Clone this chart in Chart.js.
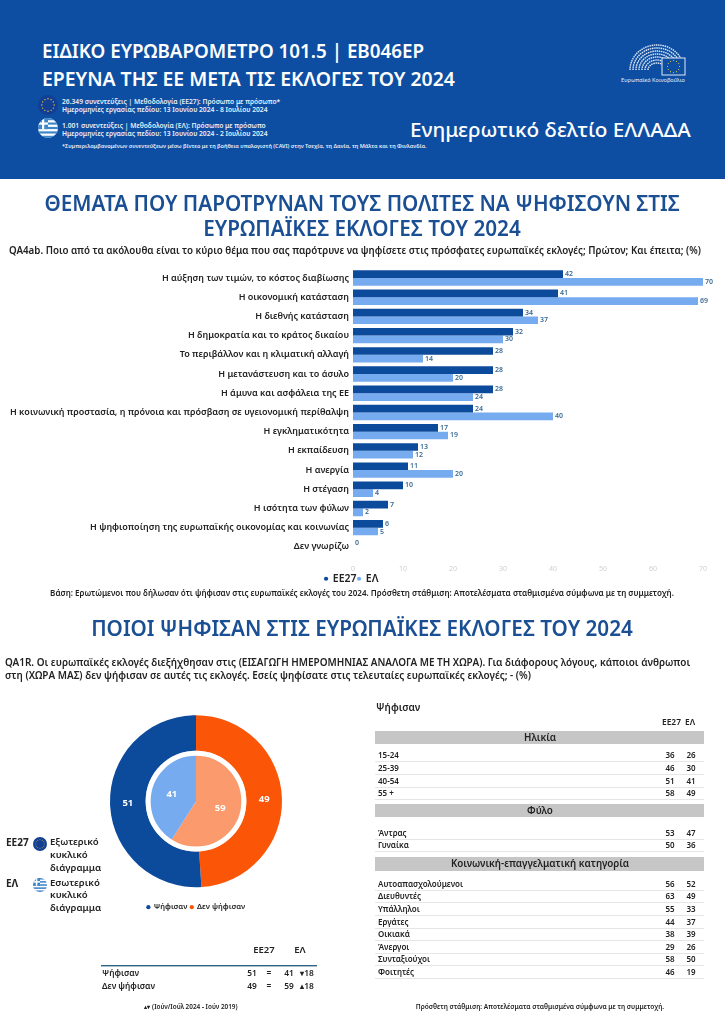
<!DOCTYPE html>
<html lang="el">
<head>
<meta charset="utf-8">
<title>Ενημερωτικό δελτίο ΕΛΛΑΔΑ</title>
<script src="https://cdn.jsdelivr.net/npm/chart.js@4"></script>
<style>
  html, body { margin: 0; padding: 0; background: #fff; }
  #page { position: relative; width: 725px; height: 1024px; overflow: hidden; font-family: "Noto Sans", sans-serif; color: #222; }
  #header { position: absolute; left: 0; top: 0; width: 725px; height: 179px; background: #0d4ea3; }
  .t { position: absolute; white-space: nowrap; transform: translateY(-50%); line-height: 1; }
  .band { position: absolute; left: 375px; width: 329px; background: #c6c6c6; }
  .rule { position: absolute; left: 375px; width: 329px; height: 1px; background: #e6e6e6; }
  canvas { position: absolute; }
  svg { position: absolute; }
</style>
</head>
<body>
<div id="page">
  <div id="header"></div>
  <canvas id="barChart" style="left:0;top:259px" width="725" height="335"></canvas>
  <canvas id="pieChart" style="left:60px;top:702px" width="272" height="219"></canvas>
</div>
<script>
const page = document.getElementById("page");

// bar chart
const topics = [
  "Η αύξηση των τιμών, το κόστος διαβίωσης",
  "Η οικονομική κατάσταση",
  "Η διεθνής κατάσταση",
  "Η δημοκρατία και το κράτος δικαίου",
  "Το περιβάλλον και η κλιματική αλλαγή",
  "Η μετανάστευση και το άσυλο",
  "Η άμυνα και ασφάλεια της ΕΕ",
  "Η κοινωνική προστασία, η πρόνοια και πρόσβαση σε υγειονομική περίθαλψη",
  "Η εγκληματικότητα",
  "Η εκπαίδευση",
  "Η ανεργία",
  "Η στέγαση",
  "Η ισότητα των φύλων",
  "Η ψηφιοποίηση της ευρωπαϊκής οικονομίας και κοινωνίας",
  "Δεν γνωρίζω",
];
const topicsEU = [42, 41, 34, 32, 28, 28, 28, 24, 17, 13, 11, 10, 7, 6, 0];
const topicsEL = [70, 69, 37, 30, 14, 20, 24, 40, 19, 12, 20, 4, 2, 5, null];

// doughnut
const voteLabels = ["Δεν ψήφισαν", "Ψήφισαν"];
const voteEU = [49, 51];
const voteEL = [59, 41];

// tables
const ageRows = ["15-24", "25-39", "40-54", "55 +"];
const ageEU = [36, 46, 51, 58];
const ageEL = [26, 30, 41, 49];
const genderRows = ["Άντρας", "Γυναίκα"];
const genderEU = [53, 50];
const genderEL = [47, 36];
const jobRows = ["Αυτοαπασχολούμενοι", "Διευθυντές", "Υπάλληλοι", "Εργάτες", "Οικιακά", "Άνεργοι", "Συνταξιούχοι", "Φοιτητές"];
const jobEU = [56, 63, 55, 44, 38, 29, 58, 46];
const jobEL = [52, 49, 33, 37, 39, 26, 50, 19];
const summaryRows = ["Ψήφισαν", "Δεν ψήφισαν"];
const summaryEU = [51, 49];
const summaryEUDiff = ["=", "="];
const summaryEL = [41, 59];
const summaryELDiff = ["▾18", "▴18"];

const DARK = "#0c4a9b";
const LIGHT = "#76abf0";
const ORANGE = "#fb5607";
const PEACH = "#fa9a6d";
const TITLE = "#1b4f93";

function text(x, y, str, size, weight, color, align) {
  const el = document.createElement("div");
  el.className = "t";
  el.textContent = str;
  el.style.top = y + "px";
  el.style.fontSize = size + "px";
  el.style.fontWeight = weight || 400;
  if (color) el.style.color = color;
  if (align === "center") {
    el.style.left = x + "px";
    el.style.transform = "translate(-50%, -50%)";
  } else if (align === "right") {
    el.style.right = (725 - x) + "px";
  } else {
    el.style.left = x + "px";
  }
  page.appendChild(el);
  return el;
}

function addSvg(markup) {
  page.insertAdjacentHTML("beforeend", markup);
}

function euFlag(cx, cy, r) {
  let stars = "";
  for (let i = 0; i < 12; i++) {
    const a = (i * Math.PI) / 6;
    stars += `<circle cx="${cx + Math.cos(a) * r * 0.62}" cy="${cy + Math.sin(a) * r * 0.62}" r="${r * 0.07}" fill="#e8c93a"/>`;
  }
  return `<svg style="left:0;top:0" width="725" height="1024"><circle cx="${cx}" cy="${cy}" r="${r}" fill="#123f94"/>${stars}</svg>`;
}

function greekFlag(cx, cy, r) {
  const id = "gr" + cx + cy;
  let stripes = "";
  const h = (r * 2) / 9;
  for (let i = 0; i < 9; i += 2) {
    stripes += `<rect x="${cx - r}" y="${cy - r + i * h}" width="${r * 2}" height="${h}" fill="#3f86c9"/>`;
  }
  return `<svg style="left:0;top:0" width="725" height="1024"><defs><clipPath id="${id}"><circle cx="${cx}" cy="${cy}" r="${r}"/></clipPath></defs>
    <g clip-path="url(#${id})"><rect x="${cx - r}" y="${cy - r}" width="${r * 2}" height="${r * 2}" fill="#fff"/>${stripes}
    <rect x="${cx - r}" y="${cy - r}" width="${r}" height="${h * 5}" fill="#3f86c9"/>
    <rect x="${cx - r}" y="${cy - r + h * 2}" width="${r}" height="${h}" fill="#fff"/>
    <rect x="${cx - r * 0.6}" y="${cy - r}" width="${h}" height="${h * 5}" fill="#fff"/></g></svg>`;
}

function parliamentLogo() {
  let arcs = "";
  for (let i = 0; i < 7; i++) {
    const rx = 27 - i * 3;
    const ry = 25 - i * 3;
    arcs += `<path d="M ${657 - rx} 70 A ${rx} ${ry} 0 0 1 ${657 + rx} 70" fill="none" stroke="#dfe9f7" stroke-width="1.4" stroke-dasharray="1.5 0.7"/>`;
  }
  let stars = "";
  for (let i = 0; i < 12; i++) {
    const a = (i * Math.PI) / 6;
    stars += `<circle cx="${673.5 + Math.cos(a) * 6}" cy="${66.5 + Math.sin(a) * 6}" r="0.6" fill="#e8c93a"/>`;
  }
  return `<svg style="left:0;top:0" width="725" height="1024">${arcs}
    <rect x="662" y="58" width="23" height="17" fill="#0d4ea3" stroke="#dfe9f7" stroke-width="1"/>${stars}</svg>`;
}

// header
text(42, 51, "ΕΙΔΙΚΟ ΕΥΡΩΒΑΡΟΜΕΤΡΟ 101.5 | EB046EP", 18.8, 600, "#fff");
text(42, 79, "ΕΡΕΥΝΑ ΤΗΣ ΕΕ ΜΕΤΑ ΤΙΣ ΕΚΛΟΓΕΣ ΤΟΥ 2024", 19.4, 600, "#fff");
text(62, 102, "26.349 συνεντεύξεις | Μεθοδολογία (ΕΕ27): Πρόσωπο με πρόσωπο*", 6.7, 600, "#e8eef8");
text(62, 110, "Ημερομηνίες εργασίας πεδίου: 13 Ιουνίου 2024 - 8 Ιουλίου 2024", 6.7, 600, "#e8eef8");
text(62, 126, "1.001 συνεντεύξεις | Μεθοδολογία (ΕΛ): Πρόσωπο με πρόσωπο", 6.7, 600, "#e8eef8");
text(62, 134, "Ημερομηνίες εργασίας πεδίου: 13 Ιουνίου 2024 - 2 Ιουλίου 2024", 6.7, 600, "#e8eef8");
text(62, 147, "*Συμπεριλαμβανομένων συνεντεύξεων μέσω βίντεο με τη βοήθεια υπολογιστή (CAVI) στην Τσεχία, τη Δανία, τη Μάλτα και τη Φινλανδία.", 5.5, 600, "#e8eef8");
text(410, 129, "Ενημερωτικό δελτίο ΕΛΛΑΔΑ", 20.7, 500, "#fff");
text(653, 81, "Ευρωπαϊκό Κοινοβούλιο", 5.6, 400, "#e8eef8", "center");
addSvg(euFlag(48, 105, 10));
addSvg(greekFlag(48, 128, 10));
addSvg(parliamentLogo());

// section titles and notes
text(362, 203, "ΘΕΜΑΤΑ ΠΟΥ ΠΑΡΟΤΡΥΝΑΝ ΤΟΥΣ ΠΟΛΙΤΕΣ ΝΑ ΨΗΦΙΣΟΥΝ ΣΤΙΣ", 20.7, 600, TITLE, "center");
text(362, 228, "ΕΥΡΩΠΑΪΚΕΣ ΕΚΛΟΓΕΣ ΤΟΥ 2024", 20.7, 600, TITLE, "center");
text(9, 251, "QA4ab. Ποιο από τα ακόλουθα είναι το κύριο θέμα που σας παρότρυνε να ψηφίσετε στις πρόσφατες ευρωπαϊκές εκλογές; Πρώτον; Και έπειτα; (%)", 9.75, 600);
text(362, 593, "Βάση: Ερωτώμενοι που δήλωσαν ότι ψήφισαν στις ευρωπαϊκές εκλογές του 2024. Πρόσθετη στάθμιση: Αποτελέσματα σταθμισμένα σύμφωνα με τη συμμετοχή.", 8.05, 600, null, "center");
text(362, 628, "ΠΟΙΟΙ ΨΗΦΙΣΑΝ ΣΤΙΣ ΕΥΡΩΠΑΪΚΕΣ ΕΚΛΟΓΕΣ ΤΟΥ 2024", 20.7, 600, TITLE, "center");
text(5, 663, "QA1R. Οι ευρωπαϊκές εκλογές διεξήχθησαν στις (ΕΙΣΑΓΩΓΗ ΗΜΕΡΟΜΗΝΙΑΣ ΑΝΑΛΟΓΑ ΜΕ ΤΗ ΧΩΡΑ). Για διάφορους λόγους, κάποιοι άνθρωποι", 9.95, 600);
text(5, 676, "στη (ΧΩΡΑ ΜΑΣ) δεν ψήφισαν σε αυτές τις εκλογές. Εσείς ψηφίσατε στις τελευταίες ευρωπαϊκές εκλογές; - (%)", 9.95, 600);

// doughnut key
text(6, 842, "ΕΕ27", 10, 700);
addSvg(euFlag(40, 844, 7));
text(50, 842, "Εξωτερικό", 9.6, 600);
text(50, 855, "κυκλικό", 9.6, 600);
text(50, 868, "διάγραμμα", 9.6, 600);
text(6, 883, "ΕΛ", 10, 700);
addSvg(greekFlag(40, 885, 7));
text(50, 883, "Εσωτερικό", 9.6, 600);
text(50, 895, "κυκλικό", 9.6, 600);
text(50, 908, "διάγραμμα", 9.6, 600);

// small table under the doughnut
text(264, 950, "ΕΕ27", 9.5, 600, null, "center");
text(300, 950, "ΕΛ", 9.5, 600, null, "center");
addSvg('<svg style="left:0;top:0" width="725" height="1024"><rect x="101" y="965" width="216" height="1.4" fill="#2f6486"/></svg>');
summaryRows.forEach((row, i) => {
  const y = 973 + i * 13;
  text(102, y, row, 8.4, 600);
  text(252, y, summaryEU[i], 8.4, 600, null, "center");
  text(269, y, summaryEUDiff[i], 8.4, 600, null, "center");
  text(289, y, summaryEL[i], 8.4, 600, null, "center");
  text(307, y, summaryELDiff[i], 8.4, 600, null, "center");
});
text(191, 1007, "▴▾ (Ιούν/Ιούλ 2024 - Ιούν 2019)", 6.4, 600, null, "center");

// table on the right
function band(top, height, label) {
  const el = document.createElement("div");
  el.className = "band";
  el.style.top = top + "px";
  el.style.height = height + "px";
  page.appendChild(el);
  text(540, top + height / 2, label, 9.8, 600, null, "center");
}

function rows(labels, eu, el, ys) {
  labels.forEach((label, i) => {
    text(378, ys[i], label, 8, 600);
    text(670, ys[i], eu[i], 8, 600, null, "center");
    text(691, ys[i], el[i], 8, 600, null, "center");
    const line = document.createElement("div");
    line.className = "rule";
    line.style.top = ys[i] + 6 + "px";
    page.appendChild(line);
  });
}

text(376, 707, "Ψήφισαν", 10, 600);
text(662, 722, "ΕΕ27", 8.4, 600);
text(685, 722, "ΕΛ", 8.4, 600);
band(731, 13, "Ηλικία");
rows(ageRows, ageEU, ageEL, [755, 768, 781, 793]);
band(804, 13, "Φύλο");
rows(genderRows, genderEU, genderEL, [833, 845]);
band(857, 14, "Κοινωνική-επαγγελματική κατηγορία");
rows(jobRows, jobEU, jobEL, [884, 896, 909, 922, 934, 947, 959, 972]);
text(540, 1007, "Πρόσθετη στάθμιση: Αποτελέσματα σταθμισμένα σύμφωνα με τη συμμετοχή.", 6.6, 600, null, "center");

Chart.defaults.font.family = '"Noto Sans", sans-serif';
Chart.defaults.animation = false;

const barValues = {
  id: "barValues",
  afterDatasetsDraw(chart) {
    const c = chart.ctx;
    c.save();
    c.font = '600 7px "Noto Sans"';
    c.fillStyle = "#3d6c94";
    c.textBaseline = "middle";
    chart.data.datasets.forEach((ds, i) => {
      chart.getDatasetMeta(i).data.forEach((bar, j) => {
        if (ds.data[j] === null) return;
        c.fillText(ds.data[j], bar.x + 2, bar.y);
      });
    });
    c.restore();
  },
};

new Chart(document.getElementById("barChart"), {
  type: "bar",
  data: {
    labels: topics,
    datasets: [
      { label: "ΕΕ27", data: topicsEU, backgroundColor: DARK, barPercentage: 1, categoryPercentage: 0.8 },
      { label: "ΕΛ", data: topicsEL, backgroundColor: LIGHT, barPercentage: 1, categoryPercentage: 0.8 },
    ],
  },
  options: {
    indexAxis: "y",
    responsive: false,
    layout: { padding: { top: 5, right: 22 } },
    scales: {
      x: {
        min: 0,
        max: 70,
        grid: { display: false, drawTicks: false },
        border: { display: false },
        ticks: { stepSize: 10, color: "#cfcfcf", font: { size: 7 }, padding: 8, maxRotation: 0 },
        afterFit: (scale) => { scale.height = 16; },
      },
      y: {
        grid: { display: false, drawTicks: false },
        border: { display: false },
        ticks: { color: "#222", font: { size: 9, weight: 600 }, padding: 4, autoSkip: false },
        afterFit: (scale) => { scale.width = 353; },
      },
    },
    plugins: {
      legend: {
        position: "bottom",
        labels: { usePointStyle: true, pointStyle: "circle", boxWidth: 3, boxHeight: 3, color: "#222", font: { size: 10.5, weight: 600 }, padding: 1 },
      },
      tooltip: { enabled: false },
    },
  },
  plugins: [barValues],
});

const pieExtras = {
  id: "pieExtras",
  afterDatasetsDraw(chart) {
    const c = chart.ctx;
    const inner = chart.getDatasetMeta(1).data[0];
    c.save();
    // white ring between the two pies
    c.beginPath();
    c.arc(inner.x, inner.y, inner.outerRadius - 2.5, 0, Math.PI * 2);
    c.strokeStyle = "#fff";
    c.lineWidth = 5;
    c.stroke();
    c.font = '700 9.5px "Noto Sans"';
    c.fillStyle = "#fff";
    c.textAlign = "center";
    c.textBaseline = "middle";
    chart.data.datasets.forEach((ds, i) => {
      chart.getDatasetMeta(i).data.forEach((arc, j) => {
        const p = arc.getCenterPoint();
        c.fillText(ds.data[j], p.x, p.y);
      });
    });
    c.restore();
  },
};

new Chart(document.getElementById("pieChart"), {
  type: "doughnut",
  data: {
    labels: voteLabels,
    datasets: [
      { data: voteEU, backgroundColor: [ORANGE, DARK], borderWidth: 0, weight: 34 },
      { data: voteEL, backgroundColor: [PEACH, LIGHT], borderWidth: 0, weight: 48 },
    ],
  },
  options: {
    responsive: false,
    cutout: 0,
    layout: { padding: { left: 50, right: 50 } },
    plugins: {
      legend: {
        position: "bottom",
        reverse: true,
        labels: { usePointStyle: true, pointStyle: "circle", boxWidth: 3, boxHeight: 3, color: "#222", font: { size: 7.6, weight: 600 }, padding: 3 },
      },
      tooltip: { enabled: false },
    },
  },
  plugins: [pieExtras],
});
</script>
</body>
</html>
